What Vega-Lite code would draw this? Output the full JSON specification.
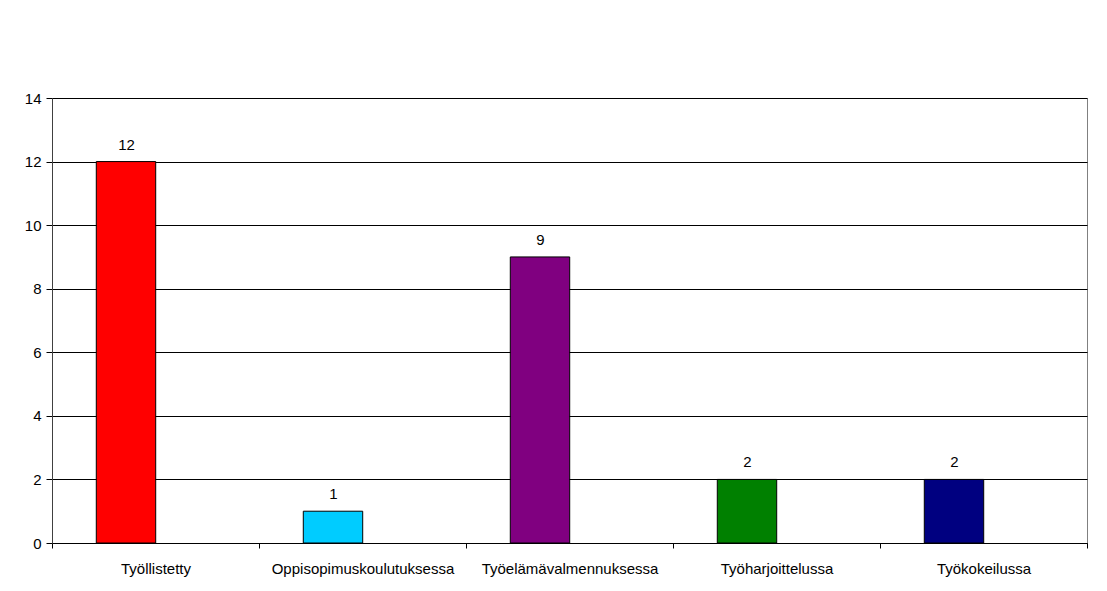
{
  "$schema": "https://vega.github.io/schema/vega-lite/v6.json",
  "autosize": {"type": "none"},
  "width": 1035,
  "height": 445,
  "padding": {"left": 52, "top": 98, "right": 20, "bottom": 48},
  "background": "white",
  "config": {
    "font": "Liberation Sans",
    "view": {"stroke": "#808080", "strokeWidth": 1}
  },
  "data": {
    "values": [
      {"kategoria": "Työllistetty", "arvo": 12, "vari": "#FF0000"},
      {"kategoria": "Oppisopimuskoulutuksessa", "arvo": 1, "vari": "#00CCFF"},
      {"kategoria": "Työelämävalmennuksessa", "arvo": 9, "vari": "#800080"},
      {"kategoria": "Työharjoittelussa", "arvo": 2, "vari": "#008000"},
      {"kategoria": "Työkokeilussa", "arvo": 2, "vari": "#000080"}
    ]
  },
  "encoding": {
    "x": {
      "field": "kategoria",
      "type": "nominal",
      "sort": null,
      "scale": {"paddingInner": 0, "paddingOuter": 0},
      "axis": {
        "title": null,
        "labelAngle": 0,
        "labelFontSize": 15,
        "labelLimit": 400,
        "labelColor": "black",
        "labelPadding": 13,
        "tickBand": "extent",
        "tickSize": 5,
        "tickColor": "black",
        "domainColor": "black",
        "grid": false
      }
    },
    "y": {
      "field": "arvo",
      "type": "quantitative",
      "scale": {"domain": [0, 14]},
      "axis": {
        "title": null,
        "values": [0, 2, 4, 6, 8, 10, 12, 14],
        "labelFontSize": 15,
        "labelColor": "black",
        "labelPadding": 5,
        "tickSize": 6,
        "tickColor": "black",
        "domainColor": "#404040",
        "gridColor": "black",
        "gridOpacity": 1
      }
    }
  },
  "layer": [
    {
      "mark": {"type": "bar", "stroke": "black", "strokeWidth": 1, "width": {"band": 0.287}, "xOffset": -29.5},
      "encoding": {
        "color": {"field": "vari", "type": "nominal", "scale": null, "legend": null}
      }
    },
    {
      "mark": {"type": "text", "baseline": "bottom", "dy": -9, "dx": -29, "fontSize": 15, "color": "black"},
      "encoding": {"text": {"field": "arvo", "type": "quantitative"}}
    }
  ]
}
